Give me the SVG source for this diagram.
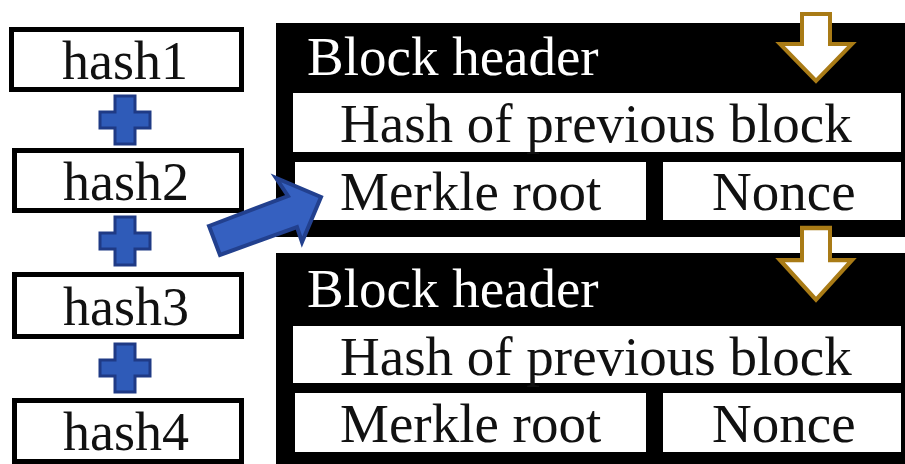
<svg xmlns="http://www.w3.org/2000/svg" width="905" height="464" viewBox="0 0 905 464">
  <style>
    .t { font-family: "Liberation Serif", "Times New Roman", serif; font-size: 54px; }
    .big { font-size: 55px; }
    .dark { fill: #111; }
    .light { fill: #fff; }
    .hashbox { fill: #fff; stroke: #000; stroke-width: 5; }
    .field { fill: #fff; }
    .block { fill: #000; }
    .plus { fill: #2f5bb8; stroke: #1f3a85; stroke-width: 3; }
    .gold { fill: #fff; stroke: #a97b16; stroke-width: 4; stroke-linejoin: miter; }
    .blue { fill: #3560c0; stroke: #22408e; stroke-width: 4; stroke-linejoin: miter; }
  </style>
  <defs>
    <path id="plusShape" d="M-10,-24 H10 V-8 H25 V8 H10 V24 H-10 V8 H-25 V-8 H-10 Z"/>
    <path id="goldDown" d="M802,0 H830 V30 H852 L816,67 L780,30 H802 Z"/>
  </defs>

  <rect width="905" height="464" fill="#fff"/>

  <!-- hash chain -->
  <g id="hash1">
    <rect class="hashbox" x="11.5" y="29.5" width="230" height="60"/>
    <text class="t dark" x="125" y="79" text-anchor="middle">hash1</text>
  </g>
  <g id="hash2">
    <rect class="hashbox" x="14.5" y="150.5" width="227" height="60"/>
    <text class="t dark" x="126" y="200" text-anchor="middle">hash2</text>
  </g>
  <g id="hash3">
    <rect class="hashbox" x="14.5" y="274.5" width="227" height="62"/>
    <text class="t dark" x="126" y="325" text-anchor="middle">hash3</text>
  </g>
  <g id="hash4">
    <rect class="hashbox" x="14.5" y="400.5" width="227" height="61"/>
    <text class="t dark" x="126" y="450" text-anchor="middle">hash4</text>
  </g>

  <!-- plus signs between hashes -->
  <g id="plus1"><use href="#plusShape" class="plus" transform="translate(125,120)"/></g>
  <g id="plus2"><use href="#plusShape" class="plus" transform="translate(125,241)"/></g>
  <g id="plus3"><use href="#plusShape" class="plus" transform="translate(125,368)"/></g>

  <!-- first block header -->
  <g id="block1">
    <rect class="block" x="276" y="23" width="629" height="214"/>
    <text class="t big light" x="307" y="75">Block header</text>
    <rect class="field" x="293" y="93" width="608" height="59"/>
    <text class="t big dark" x="340" y="142">Hash of previous block</text>
    <g id="merkle1">
      <rect class="field" x="295" y="162" width="351" height="58"/>
      <text class="t big dark" x="340" y="210">Merkle root</text>
    </g>
    <g id="nonce1">
      <rect class="field" x="663" y="162" width="238" height="58"/>
      <text class="t big dark" x="712" y="210">Nonce</text>
    </g>
  </g>

  <!-- second block header -->
  <g id="block2">
    <rect class="block" x="276" y="253" width="629" height="211"/>
    <text class="t big light" x="307" y="307">Block header</text>
    <rect class="field" x="293" y="326" width="608" height="57"/>
    <text class="t big dark" x="340" y="375">Hash of previous block</text>
    <g id="merkle2">
      <rect class="field" x="295" y="393" width="351" height="59"/>
      <text class="t big dark" x="340" y="442">Merkle root</text>
    </g>
    <g id="nonce2">
      <rect class="field" x="663" y="393" width="238" height="59"/>
      <text class="t big dark" x="712" y="442">Nonce</text>
    </g>
  </g>

  <!-- connectors -->
  <g id="connectors">
    <use href="#goldDown" class="gold" transform="translate(0,14)"/>
    <use href="#goldDown" class="gold" transform="translate(0,228) scale(1,1.07)"/>
    <path class="blue" d="M209,226 L288,196 L276,178 L321,197 L302,242 L297,227 L220,255 Z"/>
  </g>
</svg>
